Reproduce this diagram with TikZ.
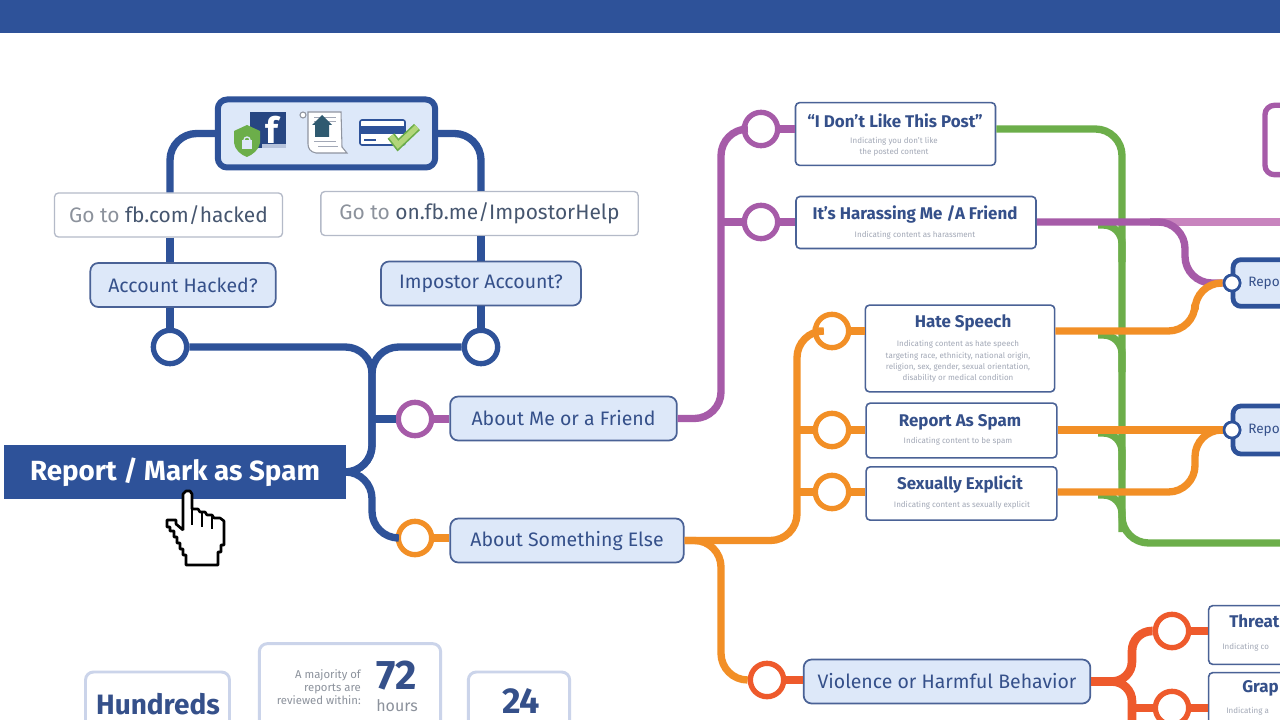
\documentclass[tikz,border=0pt]{standalone}
\usepackage{fontspec}
\setmainfont{Fira Sans}
\definecolor{fbblue}{HTML}{2E5299}
\definecolor{boxfill}{HTML}{DDE8F9}
\definecolor{boxedge}{HTML}{4A6296}
\definecolor{greyedge}{HTML}{B4BAC8}
\definecolor{softedge}{HTML}{CBD4EA}
\definecolor{headink}{HTML}{35508A}
\definecolor{subink}{HTML}{A2A8B6}
\definecolor{greyink}{HTML}{8C929C}
\definecolor{linkink}{HTML}{46566F}
\definecolor{purpleline}{HTML}{A65BA8}
\definecolor{palepurple}{HTML}{C884BE}
\definecolor{orangeline}{HTML}{F28F26}
\definecolor{greenline}{HTML}{6CAE4A}
\definecolor{redline}{HTML}{EE5A2C}
\definecolor{houseink}{HTML}{2F5A70}
\definecolor{checkfill}{HTML}{B2D67A}
\tikzset{
  lightbox/.style={draw=boxedge,fill=boxfill,line width=1.3pt,rounded corners=6pt,text=headink,inner sep=0pt,font=\fontsize{14.6}{18}\selectfont},
  whitebox/.style={draw=boxedge,fill=white,line width=1.2pt,rounded corners=3pt,inner sep=0pt},
  gobox/.style={draw=greyedge,fill=white,line width=1pt,rounded corners=3pt,inner sep=0pt,font=\fontsize{15.7}{18}\selectfont,text=greyink},
  softbox/.style={draw=softedge,fill=white,line width=2.2pt,rounded corners=6pt,inner sep=0pt},
  reportbox/.style={draw=fbblue,fill=boxfill,line width=3.6pt,rounded corners=6pt,inner sep=0pt},
  headtext/.style={text=headink,font=\fontsize{12.7}{15}\selectfont\bfseries,inner sep=0pt},
  subtext/.style={text=subink,font=\fontsize{6}{8.6}\selectfont,align=center,inner sep=0pt},
  stop/.style={circle,fill=white,line width=4pt,minimum size=25pt,inner sep=0pt},
  smallstop/.style={circle,draw=fbblue,fill=white,line width=2pt,minimum size=12pt,inner sep=0pt},
  track/.style={line width=5.5pt,rounded corners=20pt},
}
\begin{document}
\begin{tikzpicture}[x=0.75pt,y=-0.75pt]
\useasboundingbox (0,0) rectangle (1280,720);
\clip (0,0) rectangle (1280,720);
\fill[white] (0,0) rectangle (1280,720);
\fill[fbblue] (0,0) rectangle (1280,33);
% left part
\node[draw=fbblue,fill=boxfill,line width=4.5pt,rounded corners=7pt,minimum width=163pt,minimum height=51pt] (icons) at (326.5,133.5) {};
\node[gobox,minimum width=171pt,minimum height=33pt] (gohacked) at (168.5,215) {Go to \textcolor{linkink}{fb.com/hacked}};
\node[gobox,minimum width=238pt,minimum height=33pt] (goimpostor) at (479.5,213.5) {Go to \textcolor{linkink}{on.fb.me/ImpostorHelp}};
\node[lightbox,minimum width=139pt,minimum height=33pt] (hacked) at (183,285) {Account Hacked?};
\node[lightbox,minimum width=150pt,minimum height=33pt] (impostor) at (481,283.5) {Impostor Account?};
\node[stop,draw=fbblue] (hackedstop) at (170,347) {};
\node[stop,draw=fbblue] (impostorstop) at (481,347) {};
\node[fill=fbblue,text=white,minimum width=256pt,minimum height=41pt,inner sep=0pt,font=\fontsize{20.8}{24}\selectfont\bfseries] (spam) at (175,472) {Report / Mark as Spam};
\node[stop,draw=purpleline] (friendstop) at (415,419) {};
\node[stop,draw=orangeline] (elsestop) at (415,538) {};
\node[lightbox,minimum width=170pt,minimum height=33pt] (friend) at (563.5,418.5) {About Me or a Friend};
\node[lightbox,minimum width=175pt,minimum height=33pt] (else) at (567,540.5) {About Something Else};
\coordinate (trunk) at (372,472);
% the purple column
\node[stop,draw=purpleline] (dislikestop) at (761,129) {};
\node[stop,draw=purpleline] (harassstop) at (761,222) {};
\node[whitebox,minimum width=150pt,minimum height=47pt] (dislike) at (895.5,134) {};
\node[headtext] (dislikehead) at (895,120.5) {“I Don’t Like This Post”};
\node[subtext] (dislikesub) at (894,146.5) {Indicating you don’t like\\the posted content};
\node[whitebox,minimum width=180pt,minimum height=39pt] (harass) at (916,222.5) {};
\node[headtext] (harasshead) at (915,214) {It’s Harassing Me /A Friend};
\node[subtext] (harasssub) at (915,235) {Indicating content as harassment};
% the orange column
\node[stop,draw=orangeline] (hatestop) at (832,331) {};
\node[stop,draw=orangeline] (repspamstop) at (832,430) {};
\node[stop,draw=orangeline] (explicitstop) at (832,492) {};
\node[whitebox,minimum width=142pt,minimum height=65pt] (hate) at (960,348.5) {};
\node[headtext] (hatehead) at (963,323) {Hate Speech};
\node[subtext] (hatesub) at (958,361.5) {Indicating content as hate speech\\targeting race, ethnicity, national origin,\\religion, sex, gender, sexual orientation,\\disability or medical condition};
\node[whitebox,minimum width=143pt,minimum height=41pt] (repspam) at (961.5,430.5) {};
\node[headtext] (repspamhead) at (960,422) {Report As Spam};
\node[subtext] (repspamsub) at (958,441) {Indicating content to be spam};
\node[whitebox,minimum width=143pt,minimum height=40pt] (explicit) at (961.5,493.5) {};
\node[headtext] (explicithead) at (960,485) {Sexually Explicit};
\node[subtext] (explicitsub) at (962,505) {Indicating  content as sexually explicit};
% right edge
\node[reportbox,minimum width=60pt,minimum height=35pt] (reportone) at (1273,283) {};
\node[anchor=west,text=headink,inner sep=0pt,font=\fontsize{10.2}{14}\selectfont] (reportonetext) at (1248,283) {Repo};
\node[reportbox,minimum width=60pt,minimum height=36pt] (reporttwo) at (1273,430) {};
\node[anchor=west,text=headink,inner sep=0pt,font=\fontsize{10.2}{14}\selectfont] (reporttwotext) at (1248,430) {Repo};
\node[smallstop] (reportonestop) at (1232,283) {};
\node[smallstop] (reporttwostop) at (1232,430) {};
\node[draw=purpleline,line width=4pt,rounded corners=7pt,minimum width=60pt,minimum height=52pt,inner sep=0pt] (topright) at (1305,140) {};
% violence
\node[stop,draw=redline] (violencestop) at (767,680) {};
\node[lightbox,minimum width=215pt,minimum height=33pt] (violence) at (947,681.5) {Violence or Harmful Behavior};
\node[stop,draw=redline] (threatstop) at (1172,631) {};
\node[stop,draw=redline] (graphicstop) at (1172,708) {};
\node[whitebox,minimum width=80pt,minimum height=44pt] (threat) at (1262,635) {};
\node[headtext,anchor=west] (threathead) at (1229,621) {Threat};
\node[subtext,anchor=west] (threatsub) at (1222,647) {Indicating co};
\node[whitebox,minimum width=80pt,minimum height=50pt] (graphic) at (1262,706) {};
\node[headtext,anchor=west] (graphichead) at (1242,688) {Grap};
\node[subtext,anchor=west] (graphicsub) at (1226,711) {Indicating a};
% bottom
\node[softbox,minimum width=108pt,minimum height=60pt] (hundreds) at (157.5,712) {};
\node[text=headink,inner sep=0pt,font=\fontsize{21}{24}\selectfont\bfseries] (hundredstext) at (158,704) {Hundreds};
\node[softbox,minimum width=136pt,minimum height=80pt] (hours) at (350,697) {};
\node[text=greyink,align=right,anchor=east,inner sep=0pt,font=\fontsize{8.5}{10}\selectfont] (hourstext) at (361,687) {A majority of\\reports are\\reviewed within:};
\node[text=headink,inner sep=0pt,font=\fontsize{31}{34}\selectfont\bfseries] (hoursnum) at (397,676) {72};
\node[text=greyink,inner sep=0pt,font=\fontsize{12}{14}\selectfont] (hoursunit) at (397,706) {hours};
\node[softbox,minimum width=76pt,minimum height=60pt] (day) at (519,712) {};
\node[text=headink,inner sep=0pt,font=\fontsize{27}{30}\selectfont\bfseries] (daynum) at (521,701) {24};
% blue tracks
\draw[track,fbblue] (icons.west) -| (hackedstop |- gohacked.north);
\draw[track,fbblue] (icons.east) -| (impostorstop |- goimpostor.north);
\draw[line width=5.5pt,fbblue] (hackedstop |- gohacked.south) -- (hackedstop |- hacked.north);
\draw[line width=5.5pt,fbblue] (impostorstop |- goimpostor.south) -- (impostorstop |- impostor.north);
\draw[line width=5.5pt,fbblue] (hackedstop |- hacked.south) -- (hackedstop);
\draw[line width=5.5pt,fbblue] (impostorstop |- impostor.south) -- (impostorstop);
\draw[track,fbblue] (hackedstop) -| (trunk) -- (spam.east);
\draw[track,fbblue] (impostorstop) -| (trunk) -- (spam.east);
\draw[track,fbblue] (spam.east) -- (trunk) |- (elsestop);
\draw[line width=5.5pt,fbblue] (trunk |- friendstop) -- (friendstop);
\draw[line width=5.5pt,purpleline] (friendstop) -- (friendstop -| friend.west);
\draw[line width=5.5pt,orangeline] (elsestop) -- (elsestop -| else.west);
% green underneath
\draw[track,greenline] (dislike.east |- dislikestop) -| (1122,400) |- (1300,543);
\foreach \y in {222,332,430,492}
  \draw[track,greenline,rounded corners=14pt] (1098,\y+3) -| (1122,\y+40);
% purple tracks
\draw[track,purpleline] (friend.east) -| (721,129) -- (dislikestop);
\draw[line width=5.5pt,purpleline] (721,222) -- (harassstop);
\draw[line width=5.5pt,purpleline] (dislikestop) -- (dislikestop -| dislike.west);
\draw[line width=5.5pt,purpleline] (harassstop) -- (harassstop -| harass.west);
\draw[line width=6pt,palepurple] (1150,222) -- (1300,222);
\draw[track,purpleline] (harass.east |- harassstop) -| (1185,283) -- (reportonestop);
% orange tracks
\draw[track,orangeline] (else.east) -| (797,331) -- (hatestop);
\draw[track,orangeline] (else.east) -| (721,680) -- (violencestop);
\draw[line width=5.5pt,orangeline] (797,430) -- (repspamstop);
\draw[line width=5.5pt,orangeline] (797,492) -- (explicitstop);
\draw[line width=5.5pt,orangeline] (hatestop) -- (hatestop -| hate.west);
\draw[line width=5.5pt,orangeline] (repspamstop) -- (repspamstop -| repspam.west);
\draw[line width=5.5pt,orangeline] (explicitstop) -- (explicitstop -| explicit.west);
\draw[track,orangeline] (hate.east |- hatestop) -| (1195,283) -- (reportonestop);
\draw[line width=5.5pt,orangeline] (repspam.east |- repspamstop) -- (reporttwostop);
\draw[track,orangeline] (explicit.east |- explicitstop) -| (1195,430) -- (reporttwostop);
\node[smallstop] at (reportonestop) {};
\node[smallstop] at (reporttwostop) {};
% red tracks
\draw[line width=6pt,redline] (violencestop) -- (violencestop -| violence.west);
\draw[track,redline,line width=6.5pt,rounded corners=15pt] (violence.east) -| (1132,631) -- (threatstop);
\draw[track,redline,line width=6.5pt,rounded corners=15pt] (violence.east) -| (1132,735);
\draw[line width=6pt,redline] (1132,708) -- (graphicstop);
\draw[line width=5.5pt,redline] (threatstop) -- (threatstop -| threat.west);
\draw[line width=5.5pt,redline] (graphicstop) -- (graphicstop -| graphic.west);
% icons
\fill[fbblue!85!black] (250,112) rectangle (286,148);
\fill[fbblue!35] (262,144) rectangle (286,148);
\node[text=white,inner sep=0pt,font=\fontsize{27}{30}\selectfont\bfseries] (fbletter) at (272,130) {f};
\fill[greenline] (234,131) -- (247,125) -- (260,131) -- (260,143) .. controls (259,150) and (252,155) .. (247,157) .. controls (241,155) and (235,150) .. (234,143) -- cycle;
\fill[boxfill] (242,140) rectangle (252,149);
\draw[boxfill,line width=1pt] (244,140) arc (180:360:3);
\draw[greyedge!80!black,fill=white,line width=.8pt] (308,112) -- (341,112) -- (342,147) -- (347,153) -- (316,153) .. controls (310,152) and (308,148) .. (308,144) -- cycle;
\draw[greyedge!80!black,fill=white,line width=.8pt] (303,115) circle (3);
\draw[subink,line width=.4pt] (314,117) -- (336,117) (314,121) -- (336,121) (314,141) -- (336,141) (318,146) -- (338,146);
\fill[houseink] (322,115) -- (332,125) -- (329,125) -- (329,137) -- (315,137) -- (315,125) -- (312,125) -- cycle;
\draw[fbblue,fill=white,line width=1.2pt,rounded corners=1.5pt] (360,120) rectangle (405,145);
\fill[fbblue] (360,126) rectangle (405,134);
\fill[fbblue] (364,139) rectangle (376,141);
\draw[greenline,line width=6.5pt,line join=miter] (391,136) -- (398,145) -- (417,127);
\draw[checkfill,line width=4pt,line join=miter] (391,136) -- (398,145) -- (417,127);
% hand
\draw[fill=white,line width=2pt,miter limit=1] (183,494) -- (186,491) -- (190,491) -- (192,494) -- (192,509) -- (198,509) -- (200,512) -- (205,512) -- (207,515) -- (212,515) -- (214,518) -- (220,518) -- (224,521) -- (224,545) -- (221,545) -- (221,552) -- (218,552) -- (218,565) -- (186,565) -- (186,555) -- (183,555) -- (183,549) -- (180,549) -- (180,543) -- (177,543) -- (177,537) -- (174,537) -- (174,531) -- (170,531) -- (170,527) -- (167,527) -- (167,520) -- (176,520) -- (176,524) -- (183,530) -- cycle;
\draw[line width=1.5pt] (192,509) -- (192,525) (202,512) -- (202,527) (212,516) -- (212,529);
\end{tikzpicture}
\end{document}
